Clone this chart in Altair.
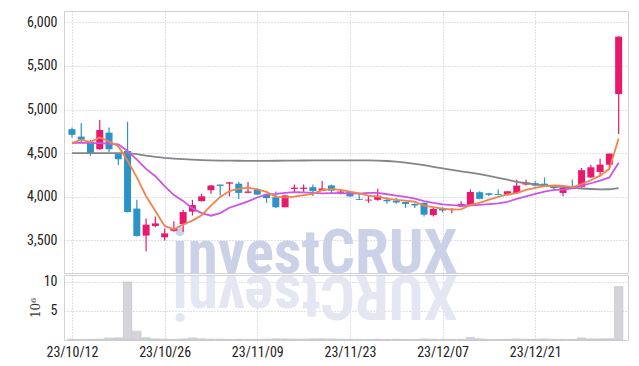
import altair as alt
import pandas as pd

# ---------------- data ----------------
date_labels = ["23/10/12", "23/10/26", "23/11/09", "23/11/23", "23/12/07", "23/12/21"]
label_index = [0, 10, 20, 30, 40, 50]

opens = [4775, 4690, 4625, 4545, 4735, 4490, 4525, 3865, 3555, 3665,
         3535, 3610, 3685, 3830, 3950, 4075, 4140, 4150, 4150, 4045,
         4080, 4025, 3995, 3880, 4090, 4090, 4110, 4070, 4130, 4045,
         4055, 3975, 3957, 3965, 3965, 3955, 3940, 3918, 3930, 3790,
         3870, 3850, 3888, 3900, 4052, 4040, 4033, 4018, 4044, 4140,
         4155, 4150, 4128, 4044, 4120, 4113, 4222, 4284, 4368, 5177]
highs = [4795, 4845, 4650, 4880, 4795, 4495, 4860, 3965, 3750, 3775,
         3635, 3720, 3850, 3965, 4035, 4135, 4140, 4170, 4170, 4170,
         4100, 4030, 4060, 4020, 4140, 4140, 4140, 4180, 4140, 4080,
         4060, 4045, 4017, 4093, 3995, 3985, 3945, 3925, 3935, 3870,
         3880, 3868, 3950, 4082, 4062, 4045, 4082, 4068, 4195, 4195,
         4178, 4222, 4132, 4105, 4197, 4330, 4368, 4437, 4500, 5840]
lows = [4680, 4620, 4470, 4540, 4510, 4365, 3820, 3545, 3375, 3650,
        3500, 3600, 3600, 3785, 3945, 4035, 4015, 4005, 3975, 4040,
        4020, 3930, 3870, 3880, 4045, 4055, 4005, 4065, 4045, 4025,
        4000, 3962, 3930, 3955, 3920, 3920, 3872, 3872, 3775, 3775,
        3820, 3812, 3885, 3890, 3972, 4005, 4018, 4015, 4035, 4128,
        4120, 4120, 4063, 4006, 4095, 4100, 4215, 4235, 4310, 4720]
closes = [4710, 4655, 4500, 4765, 4545, 4430, 3825, 3550, 3680, 3695,
          3580, 3630, 3825, 3905, 4005, 4130, 4125, 4165, 4045, 4060,
          4025, 3985, 3880, 4015, 4105, 4105, 4065, 4095, 4070, 4060,
          4005, 3965, 3967, 4012, 3948, 3935, 3918, 3900, 3795, 3860,
          3842, 3862, 3918, 4055, 3976, 4022, 4022, 4063, 4128, 4165,
          4128, 4125, 4100, 4100, 4101, 4305, 4338, 4368, 4494, 5836]
volumes = [0.12, 0.10, 0.12, 0.15, 0.35, 0.38, 10.0, 1.5, 0.4, 0.2,
           0.15, 0.12, 0.18, 0.35, 0.2, 0.15, 0.15, 0.12, 0.15, 0.12,
           0.1, 0.15, 0.2, 0.2, 0.15, 0.15, 0.2, 0.22, 0.18, 0.15,
           0.12, 0.1, 0.1, 0.15, 0.1, 0.12, 0.1, 0.1, 0.18, 0.15,
           0.1, 0.1, 0.12, 0.45, 0.2, 0.1, 0.1, 0.12, 0.18, 0.15,
           0.12, 0.2, 0.12, 0.12, 0.1, 0.35, 0.2, 0.2, 0.22, 9.2]
ma5 = [4616, 4654, 4627, 4680, 4635, 4579, 4413, 4223, 4006, 3836,
       3666, 3627, 3682, 3727, 3789, 3899, 3998, 4066, 4094, 4105,
       4084, 4056, 3999, 3993, 4002, 4018, 4034, 4077, 4088, 4079,
       4059, 4039, 4013, 4002, 3979, 3965, 3956, 3943, 3899, 3882,
       3863, 3852, 3855, 3907, 3931, 3967, 3999, 4028, 4042, 4080,
       4101, 4122, 4129, 4124, 4111, 4146, 4189, 4242, 4321, 4668]
ma10 = [4616, 4620, 4616, 4616, 4608, 4600, 4525, 4425, 4320, 4236,
        4123, 4020, 3953, 3867, 3813, 3783, 3813, 3874, 3911, 3947,
        3992, 4027, 4033, 4044, 4054, 4051, 4045, 4038, 4041, 4041,
        4039, 4037, 4045, 4045, 4029, 4012, 3998, 3978, 3951, 3931,
        3914, 3904, 3899, 3903, 3906, 3915, 3925, 3942, 3975, 4005,
        4034, 4060, 4078, 4083, 4095, 4124, 4155, 4186, 4222, 4390]
ma_long = [4500, 4500, 4500, 4500, 4500, 4500, 4500, 4490, 4472, 4457,
           4446, 4438, 4432, 4426, 4421, 4417, 4415, 4414, 4413, 4412,
           4412, 4412, 4413, 4414, 4415, 4416, 4417, 4418, 4418, 4418,
           4418, 4418, 4417, 4415, 4410, 4403, 4392, 4378, 4362, 4343,
           4325, 4308, 4292, 4278, 4260, 4240, 4218, 4196, 4172, 4155,
           4142, 4130, 4120, 4110, 4102, 4095, 4089, 4085, 4086, 4100]

watermark = "investCRUX"

# ---------------- build ----------------
n = len(closes)
df = pd.DataFrame({
    "i": list(range(n)), "open": opens, "high": highs, "low": lows,
    "close": closes, "vol": volumes, "ma5": ma5, "ma10": ma10, "ma_long": ma_long,
})
df["dir"] = ["up" if c >= o else "down" for o, c in zip(opens, closes)]

UP, DOWN = "#e8196b", "#2b93c7"
FONT = "Liberation Sans Narrow, Roboto Condensed, DejaVu Sans Condensed, sans-serif"
GRID = "#bcc3da"

xscale = alt.Scale(domain=[-0.32, 59.47], nice=False, zero=False)
pscale = alt.Scale(domain=[3126, 6130], nice=False, zero=False)
vscale = alt.Scale(domain=[0, 11.2], nice=False, zero=False)
label_expr = "[" + ",".join(f"'{d}'" for d in date_labels) + "][round(datum.value/10)]"

x_price = alt.X("i:Q", scale=xscale,
                axis=alt.Axis(values=label_index, labels=False, ticks=False,
                              domain=False, grid=True, title=None,
                              minExtent=0, maxExtent=0, labelPadding=0))
y_axis = alt.Axis(values=[3500, 4000, 4500, 5000, 5500, 6000], format=",d",
                  title=None, ticks=False, domain=False, labelPadding=7)
color = alt.Color("dir:N", scale=alt.Scale(domain=["up", "down"], range=[UP, DOWN]),
                  legend=None)

base = alt.Chart(df)
wm_df = pd.DataFrame({"t": [watermark], "r": [watermark[::-1]]})

wm = alt.Chart(wm_df).mark_text(font=FONT, fontSize=61, fontWeight="bold",
                                color="#cbd1e7", align="center", clip=True,
                                baseline="alphabetic").encode(
    text="t:N", x=alt.value(251), y=alt.value(262))

wick = base.mark_rule(strokeWidth=1.2).encode(
    x=x_price, y=alt.Y("low:Q", scale=pscale, axis=y_axis), y2="high:Q", color=color)
body = base.mark_bar(size=7).encode(
    x=x_price, y=alt.Y("open:Q", scale=pscale, axis=y_axis), y2="close:Q", color=color)
l_long = base.mark_line(color="#858585", strokeWidth=1.8).encode(
    x=x_price, y=alt.Y("ma_long:Q", scale=pscale, axis=y_axis))
l10 = base.mark_line(color="#cc55e8", strokeWidth=1.8).encode(
    x=x_price, y=alt.Y("ma10:Q", scale=pscale, axis=y_axis))
l5 = base.mark_line(color="#f0844c", strokeWidth=1.8).encode(
    x=x_price, y=alt.Y("ma5:Q", scale=pscale, axis=y_axis))

price = alt.layer(wm, wick, body, l_long, l10, l5).properties(width=564, height=262)

x_vol = alt.X("i:Q", scale=xscale,
              axis=alt.Axis(values=label_index, labelExpr=label_expr, ticks=False,
                            domain=False, grid=True, title=None, labelPadding=5))
wm_ref = alt.Chart(wm_df).mark_text(font=FONT, fontSize=61, fontWeight="bold",
                                    color="#e4e7f2", align="center", angle=180,
                                    clip=True, baseline="alphabetic").encode(
    text="r:N", x=alt.value(251), y=alt.value(1))
vbars = base.mark_bar(size=8.5, color="#d4d4da", stroke="#b8b8c2", strokeWidth=0.5).encode(
    x=x_vol,
    y=alt.Y("vol:Q", scale=vscale,
            axis=alt.Axis(values=[5, 10], title="10⁶", ticks=False, domain=False,
                          labelPadding=7, titlePadding=1, titleFont="DejaVu Serif",
                          titleFontSize=12, titleFontWeight="normal", titleColor="#333")))
volume = alt.layer(wm_ref, vbars).properties(width=564, height=65)

chart = alt.vconcat(price, volume, spacing=0).properties(
    padding={"left": 18, "top": 2, "right": 0, "bottom": 4},
    background="white",
).configure_view(stroke="#cfd0d8").configure_axis(
    gridColor=GRID, gridDash=[1, 2], gridWidth=1,
    labelFont=FONT, labelFontSize=14, labelColor="#222",
)

chart.save("out.html", embed_options={"renderer": "svg", "actions": False})
